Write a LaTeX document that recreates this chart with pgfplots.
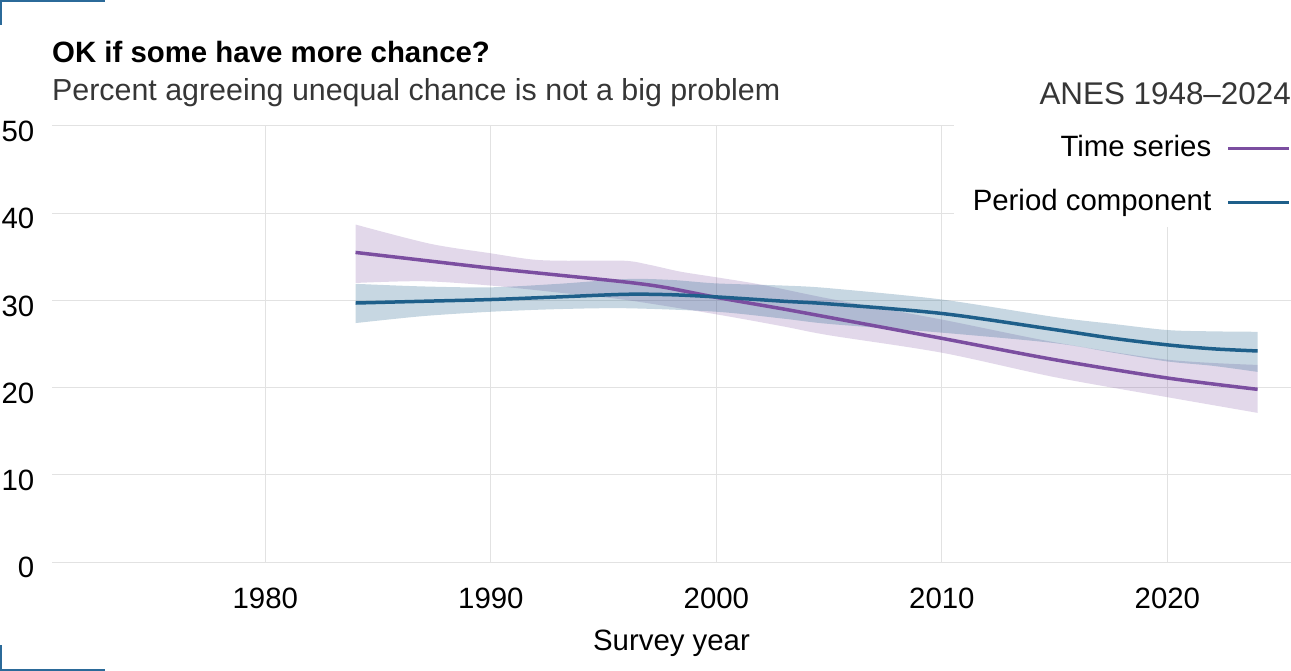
\documentclass[border=0pt]{standalone}
\usepackage{fontspec}
\setmainfont{Liberation Sans}
\usepackage{pgfplots}
\pgfplotsset{compat=1.18}
\usepgfplotslibrary{fillbetween}
\definecolor{tsc}{RGB}{123,78,160}
\definecolor{pcc}{RGB}{30,95,138}
\definecolor{gridc}{RGB}{226,226,226}
\definecolor{cornc}{RGB}{43,106,153}
\definecolor{subc}{RGB}{54,54,54}
\begin{document}
\begin{tikzpicture}
\begin{axis}[
  at={(0,0)}, anchor=south west,
  scale only axis, width=1239bp, height=436bp,
  xmin=1970.54, xmax=2025.48, ymin=0, ymax=50,
  xtick={1980,1990,2000,2010,2020}, ytick={0,10,20,30,40,50},
  grid=major, major grid style={draw=gridc, line width=1bp},
  axis line style={draw=none}, tick style={draw=none},
  /pgf/number format/assume math mode=true,
  /pgf/number format/1000 sep={},
  tick label style={font=\fontsize{29.5}{34}\selectfont, text=black},
  yticklabel style={inner sep=0pt, anchor=east, xshift=-17.5bp, yshift=-5.5bp},
  xticklabel style={inner sep=0pt, anchor=north, yshift=-26bp},
  xlabel={Survey year},
  xlabel style={font=\fontsize{29.5}{34}\selectfont, at={(axis description cs:0.5,0)}, anchor=base, yshift=-88bp},
  legend style={at={(1,1)}, anchor=north east, yshift=2bp, draw=none, fill=white,
    inner xsep=0pt, inner ysep=11bp, row sep=27bp,
    font=\fontsize{29.5}{34}\selectfont,
    nodes={text height=21bp, text depth=6bp, inner ysep=0pt}},
  legend plot pos=right,
  legend cell align=right,
  legend image code/.code={\draw[#1] (0bp,0bp) -- (61bp,0bp);},
]
% Time series band
\addplot[name path=tsu, draw=none, smooth, forget plot] coordinates {
(1984,38.7)(1987.3,36.5)(1990,35.4)(1991.8,34.7)(1993.2,34.55)(1995.9,34.55)(1997,34.1)(1998.4,33.3)(2000,32.65)(2002,31.8)(2005,30.2)(2010,27.8)(2015,25.2)(2020,23.2)(2024,22.6)};
\addplot[name path=tsl, draw=none, smooth, forget plot] coordinates {
(1984,32.0)(1987,32.2)(1990,31.7)(1993,30.9)(1996,30.05)(2000,28.4)(2003,27.0)(2005,26.0)(2010,24.0)(2015,21.2)(2020,18.9)(2024,17.1)};
\addplot[fill=tsc, fill opacity=0.22, draw=none, forget plot] fill between[of=tsu and tsl];
% Period component band
\addplot[name path=pcu, draw=none, smooth, forget plot] coordinates {
(1984,31.9)(1987,31.6)(1990,31.5)(1993,31.9)(1996,32.45)(1998,32.35)(2000,31.95)(2003,31.7)(2005,31.4)(2010,30.1)(2015,28.1)(2017.6,27.3)(2020,26.6)(2022,26.45)(2024,26.4)};
\addplot[name path=pcl, draw=none, smooth, forget plot] coordinates {
(1984,27.4)(1987,28.2)(1990,28.7)(1993,29.0)(1996,29.1)(2000,28.7)(2003,27.9)(2005,27.3)(2010,26.3)(2015,25.1)(2017.6,24.0)(2020,23.0)(2022,22.5)(2024,21.8)};
\addplot[fill=pcc, fill opacity=0.25, draw=none, forget plot] fill between[of=pcu and pcl];
% lines
\addplot[tsc, line width=3.5bp, smooth] coordinates {
(1984,35.5)(1987,34.6)(1990,33.7)(1993,32.9)(1996,32.1)(1997.7,31.5)(2000,30.35)(2003,29.0)(2005,28.05)(2010,25.65)(2015,23.2)(2020,21.1)(2024,19.8)};
\addlegendentry{Time series\hspace*{13bp}}
\addplot[pcc, line width=3.5bp, smooth] coordinates {
(1984,29.7)(1987,29.9)(1990,30.1)(1993,30.4)(1996,30.7)(1998,30.65)(2000,30.4)(2003,29.9)(2005,29.6)(2010,28.5)(2015,26.65)(2017.6,25.65)(2020,24.9)(2022,24.45)(2024,24.2)};
\addlegendentry{\hspace*{17bp}Period component\hspace*{13bp}}
\end{axis}
\node[anchor=base west, inner sep=0pt, font=\bfseries\fontsize{29.5}{34}\selectfont] at (0bp,499.3bp) {OK if some have more chance?};
\node[anchor=base west, inner sep=0pt, text=subc, font=\fontsize{30.5}{36}\selectfont] at (0bp,461bp) {Percent agreeing unequal chance is not a big problem};
\node[anchor=base east, inner sep=0pt, text=subc, font=\fontsize{31.5}{36}\selectfont] at (1239bp,457bp) {ANES 1948–2024};
\draw[cornc, line width=2bp] (-51bp,537bp) -- (-51bp,561bp) -- (53bp,561bp);
\draw[cornc, line width=2bp] (-51bp,-83bp) -- (-51bp,-108bp) -- (53bp,-108bp);
\pgfresetboundingbox
\path[use as bounding box] (-52bp,-109bp) rectangle (1239bp,562bp);
\end{tikzpicture}
\end{document}
